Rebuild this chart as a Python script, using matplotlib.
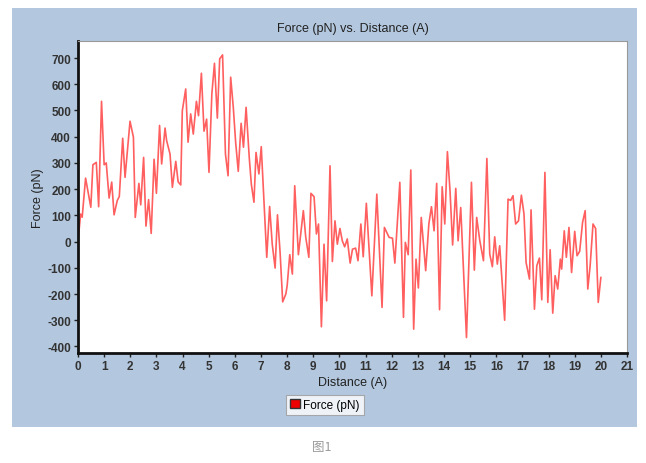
import matplotlib
matplotlib.use("Agg")
import matplotlib.pyplot as plt
from matplotlib.patches import Rectangle, Patch

plt.rcParams['font.family'] = ['Liberation Sans', 'Noto Sans CJK SC', 'DejaVu Sans']
plt.rcParams['axes.unicode_minus'] = False

# values
distance = [0, 0.1, 0.16, 0.29, 0.49, 0.57, 0.7, 0.79, 0.9, 1.0,
            1.08, 1.19, 1.29, 1.38, 1.5, 1.58, 1.71, 1.8, 1.99, 2.12,
            2.19, 2.33, 2.4, 2.51, 2.6, 2.7, 2.8, 2.91, 3.0, 3.12,
            3.2, 3.33, 3.39, 3.52, 3.61, 3.74, 3.83, 3.93, 3.99, 4.12,
            4.21, 4.31, 4.41, 4.53, 4.61, 4.72, 4.82, 4.92, 5.01, 5.12,
            5.22, 5.33, 5.42, 5.53, 5.64, 5.74, 5.84, 5.94, 6.03, 6.13,
            6.24, 6.33, 6.43, 6.55, 6.63, 6.73, 6.81, 6.92, 7.01, 7.22,
            7.33, 7.43, 7.54, 7.63, 7.73, 7.83, 7.95, 8.0, 8.1, 8.2,
            8.29, 8.43, 8.62, 8.71, 8.83, 8.91, 9.03, 9.12, 9.2, 9.31,
            9.41, 9.51, 9.64, 9.73, 9.83, 9.92, 10.02, 10.11, 10.2, 10.3,
            10.41, 10.5, 10.62, 10.71, 10.82, 10.91, 11.03, 11.24, 11.43, 11.63,
            11.72, 11.9, 12.03, 12.12, 12.31, 12.45, 12.52, 12.63, 12.73, 12.84,
            12.93, 13.02, 13.13, 13.3, 13.42, 13.52, 13.62, 13.72, 13.83, 13.93,
            14.03, 14.13, 14.23, 14.33, 14.45, 14.54, 14.64, 14.86, 15.05, 15.16,
            15.25, 15.37, 15.51, 15.64, 15.75, 15.85, 15.94, 16.04, 16.13, 16.32,
            16.45, 16.55, 16.64, 16.74, 16.85, 16.96, 17.06, 17.14, 17.27, 17.33,
            17.46, 17.55, 17.65, 17.74, 17.86, 17.97, 18.06, 18.16, 18.25, 18.35,
            18.45, 18.5, 18.6, 18.68, 18.78, 18.88, 19.0, 19.09, 19.19, 19.3,
            19.4, 19.5, 19.59, 19.7, 19.8, 19.9, 20.0]
force = [0, 105, 93, 242, 131, 293, 302, 133, 535, 293,
         300, 166, 227, 102, 156, 172, 394, 245, 459, 398,
         92, 222, 140, 321, 59, 160, 31, 314, 184, 443,
         296, 433, 385, 334, 207, 306, 228, 216, 499, 582,
         379, 487, 410, 535, 480, 642, 421, 467, 264, 563,
         680, 471, 697, 712, 334, 251, 627, 512, 379, 268,
         451, 360, 512, 321, 219, 150, 340, 258, 362, -60,
         134, -10, -101, 102, -41, -230, -200, -169, -50, -124,
         213, -50, 118, 18, -60, 184, 171, 29, 67, -325,
         -10, -226, 289, -76, 79, -10, 50, 3, -20, 10,
         -82, -29, -25, -73, 67, -58, 146, -207, 181, -251,
         54, 16, 13, -82, 226, -289, -3, -50, 273, -334,
         -67, -177, 92, -111, 67, 133, 41, 222, -260, 209,
         67, 343, 194, -13, 203, 3, 130, -366, 226, -109,
         92, 3, -73, 317, -48, -96, 18, -86, -16, -300,
         162, 157, 175, 67, 79, 177, 105, -80, -143, 121,
         -258, -92, -63, -222, 264, -232, -31, -273, -130, -181,
         -67, -105, 41, -60, 54, -118, 39, -54, -37, 73,
         118, -181, -92, 67, 50, -232, -137]

x_ticks = list(range(0, 22))
y_ticks = list(range(-400, 800, 100))

W, H = 646, 464
fig = plt.figure(figsize=(W / 100, H / 100), dpi=100)
fig.patch.set_facecolor('white')

# blue panel behind the chart
panel = Rectangle((12 / W, 1 - 428 / H), (637 - 12) / W, (428 - 9) / H,
                  transform=fig.transFigure, facecolor='#b3c7de', edgecolor='none', zorder=-5)
fig.add_artist(panel)

ax = fig.add_axes([78 / W, 1 - 354 / H, (627 - 78) / W, (354 - 42) / H])
ax.set_zorder(1)
ax.set_facecolor('white')
ax.plot(distance, force, color='#ff4d4d', lw=1.2, alpha=0.9)

ax.set_xlim(0, 21)
ax.set_ylim(-425, 765)
ax.set_xticks(x_ticks)
ax.set_yticks(y_ticks)
ax.tick_params(axis='both', labelsize=8.5, colors='#222222', length=3, width=1, pad=2)
for lbl in ax.get_xticklabels() + ax.get_yticklabels():
    lbl.set_fontweight('bold')
    lbl.set_color('#333333')

ax.spines['left'].set_linewidth(2)
ax.spines['bottom'].set_linewidth(2)
ax.spines['left'].set_color('#111111')
ax.spines['bottom'].set_color('#111111')
ax.spines['top'].set_color('#999999')
ax.spines['right'].set_color('#999999')
ax.spines['top'].set_linewidth(0.8)
ax.spines['right'].set_linewidth(0.8)

ax.set_title('Force (pN) vs. Distance (A)', fontsize=9, color='#222222', pad=7)
ax.set_xlabel('Distance (A)', fontsize=9, color='#222222', labelpad=3)
ax.set_ylabel('Force (pN)', fontsize=9, color='#222222', labelpad=2)

handle = Patch(facecolor='#ee0000', edgecolor='#333333', label='Force (pN)')
leg = fig.legend(handles=[handle], loc='center', bbox_to_anchor=(325 / W, 1 - 406 / H),
                 fontsize=8.5, frameon=True, fancybox=False, handlelength=0.8,
                 handleheight=0.8, handletextpad=0.3, borderpad=0.35)
leg.get_frame().set_edgecolor('#999999')
leg.get_frame().set_linewidth(0.8)
leg.set_zorder(3)

fig.text(322 / W, 1 - 448 / H, '图1', fontsize=9, color='#999999', ha='center', va='center',
         family=['Noto Sans CJK SC', 'DejaVu Sans'])

fig.savefig('out.png', dpi=100)
